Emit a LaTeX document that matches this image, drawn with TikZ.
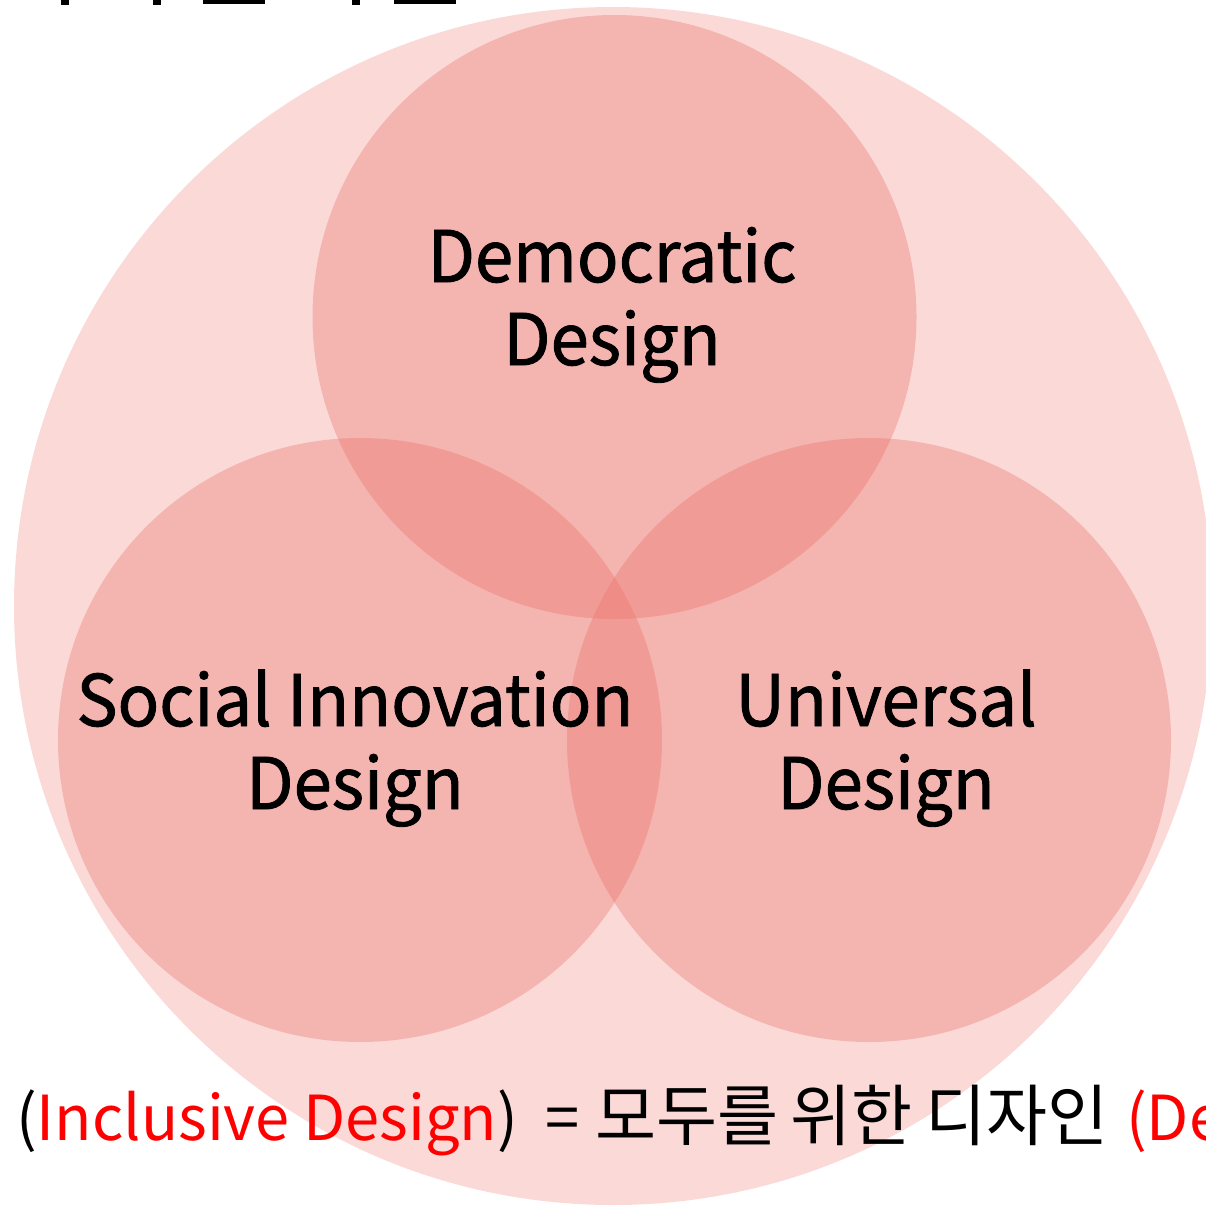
\documentclass[tikz,border=0pt]{standalone}
\usepackage{fontspec}
\setmainfont{Noto Sans CJK KR}
\newfontfamily\labelfont[FakeBold=1.2,FakeStretch=0.97]{Noto Sans CJK KR}
\newfontfamily\footfont[FakeStretch=0.99]{Noto Sans CJK KR}
\definecolor{venn}{RGB}{234,110,102}
\definecolor{pure}{RGB}{255,0,0}
\begin{document}
\begin{tikzpicture}[x=1pt,y=-1pt,
  bigdisc/.style={fill=venn,fill opacity=0.26},
  disc/.style={fill=venn,fill opacity=0.35},
  lbl/.style={font=\labelfont\fontsize{71}{84}\selectfont,align=center,text=black,inner sep=0pt,anchor=base},
  foot/.style={font=\footfont\fontsize{62}{70}\selectfont,inner sep=0pt,anchor=base west},
  frag/.style={fill=black}]
\useasboundingbox (0,0) rectangle (1206,1205);
% outer circle (Inclusive Design)
\fill[bigdisc] (613,606) circle (599);
% three design circles
\fill[disc] (614.5,317) circle (302);
\fill[disc] (360,740) circle (302);
\fill[disc] (869,740) circle (302);
% labels
\node[lbl] (dem) at (612,282) {Democratic};
\node[lbl] (demb) at (612,365) {Design};
\node[lbl] (soc) at (355,726) {Social Innovation};
\node[lbl] (socb) at (355,809) {Design};
\node[lbl] (uni) at (886,726) {Universal};
\node[lbl] (unib) at (886,809) {Design};
% bottom line
\node[foot] (foot) at (16,1140) {(\textcolor{pure}{Inclusive Design})\ \ = \hspace{2pt}{\fontsize{67}{70}\selectfont 모두를\hspace{-3pt} 위한\hspace{-2pt} 디자인}\hspace{4pt} \textcolor{pure}{(Design for All)}};
% fragments of cut-off title at top edge
\fill[frag] (61,0) rectangle (69,5);
\fill[frag] (153,0) rectangle (161,5);
\fill[frag] (203,0) rectangle (265,4);
\fill[frag] (352,0) rectangle (360,5);
\fill[frag] (394,0) rectangle (456,4);
\end{tikzpicture}
\end{document}
